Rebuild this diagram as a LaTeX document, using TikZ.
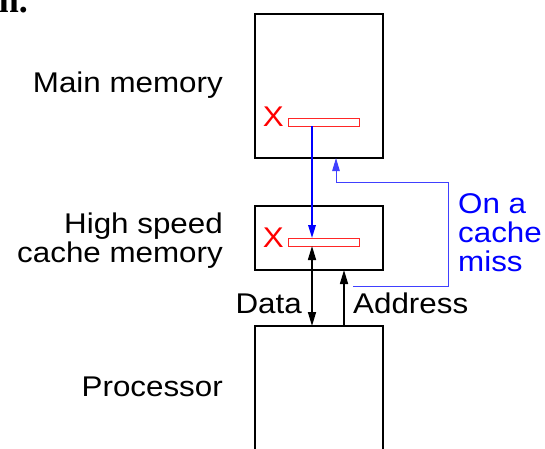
\documentclass[tikz,border=0pt]{standalone}
\usepackage{fontspec}
\setmainfont{Liberation Sans}[FakeStretch=1.1]
\newfontfamily\fragfont{Liberation Serif}
\usetikzlibrary{arrows.meta}
\begin{document}
\begin{tikzpicture}[x=1pt,y=-1pt,
  box/.style={draw=black, line width=2pt, minimum width=128pt, inner sep=0pt, outer sep=0pt},
  bar/.style={draw=red!85!white, line width=1pt, minimum width=71pt, minimum height=8pt, inner sep=0pt, outer sep=0pt},
  lbl/.style={font=\fontsize{28.5}{29}\selectfont, inner sep=0pt},
  xmark/.style={lbl, text=red},
  blk/.style={draw=black, line width=1.6pt},
  blu/.style={draw=blue, line width=1.6pt},
  blufine/.style={draw=blue!75!white, line width=1pt}
]
\useasboundingbox (0,0) rectangle (545,448);

% fragment of surrounding text
\node[anchor=base east, inner sep=0pt, font=\fontsize{36}{36}\selectfont\fragfont\bfseries] (frag) at (28,12) {n.};

% boxes
\node[box, minimum height=144pt] (mm) at (319,86) {};
\node[box, minimum height=64pt] (cm) at (319,238) {};
\node[box, minimum height=160pt] (pr) at (319,406) {};

% red bars
\node[bar] (mbar) at (323.5,122) {};
\node[bar] (cbar) at (323.5,242) {};
\node[xmark, anchor=base east] (mx) at (284,126) {X};
\node[xmark, anchor=base east] (cx) at (284,247) {X};

% labels
\node[lbl, anchor=base east] (lmm) at (223,92.7) {Main memory};
\node[lbl, anchor=base east, align=right] (lcm) at (223,262) {High speed\\cache memory};
\node[lbl, anchor=base east] (lpr) at (223,396.7) {Processor};
\node[lbl, anchor=base east] (ldata) at (302,313) {Data};
\node[lbl, anchor=base west] (laddr) at (353,313) {Address};
\node[lbl, anchor=base west, align=left, text=blue] (lmiss) at (458,271.5) {On a\\cache\\miss};

% helper coordinates
\coordinate (dx) at (312,0);
\coordinate (ax) at (344,0);
\coordinate (fx) at (336,0);
\coordinate (rx) at (448,0);
\coordinate (fy) at (0,182);
\coordinate (fstart) at (353,286);

% blue transfer
\draw[blu, -{Triangle[length=13pt,width=7.5pt]}] (mbar.south -| dx) -- (cbar.north -| dx);
% address path on miss
\draw[blufine, -{Triangle[length=13pt,width=7.5pt]}] (fstart) -- (fstart -| rx) -- (rx |- fy) -- (fx |- fy) -- (mm.south -| fx);

% data and address
\draw[blk, {Triangle[length=14pt,width=8pt]}-{Triangle[length=14pt,width=8pt]}] (cbar.south -| dx) -- (pr.north -| dx);
\draw[blk, -{Triangle[length=14pt,width=8pt]}] (pr.north -| ax) -- (cm.south -| ax);
\end{tikzpicture}
\end{document}
